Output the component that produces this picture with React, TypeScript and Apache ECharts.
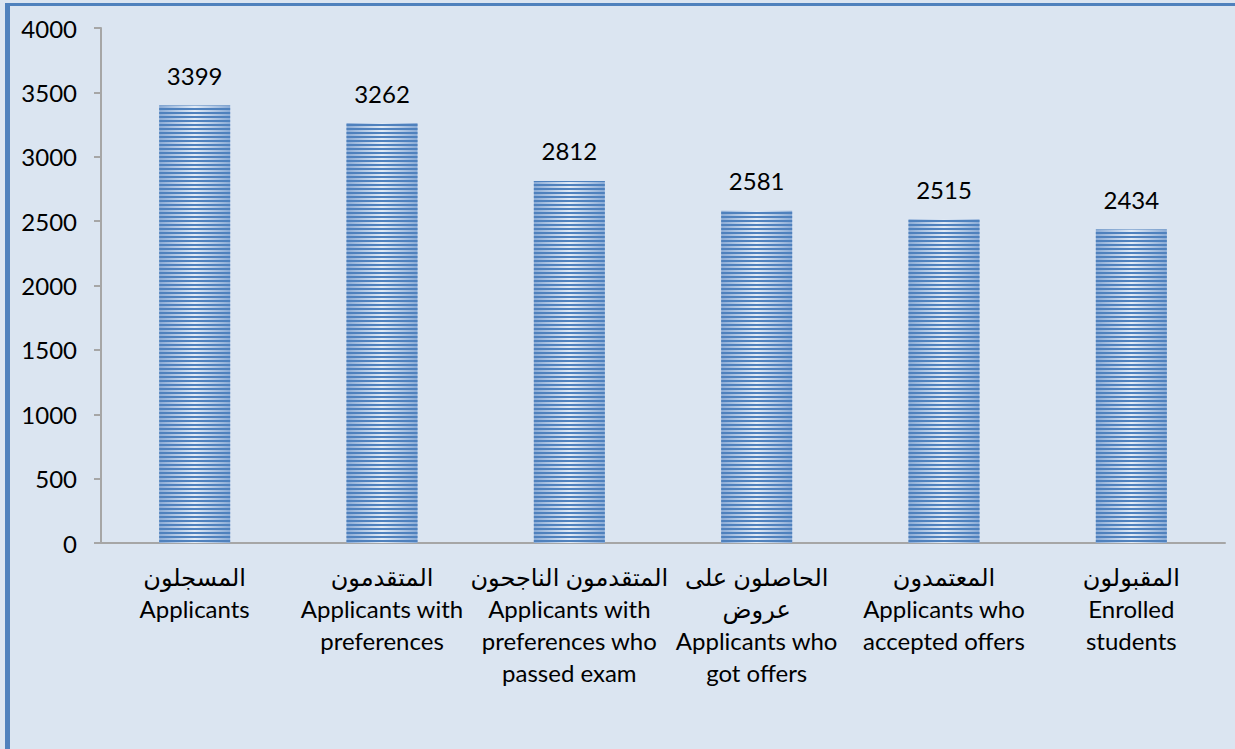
import React, { useEffect, useRef } from "react";
import * as echarts from "echarts";

const categories: string[] = [
  "المسجلون\nApplicants",
  "المتقدمون\nApplicants with\npreferences",
  "المتقدمون الناجحون\nApplicants with\npreferences who\npassed exam",
  "الحاصلون على\nعروض\nApplicants who\ngot offers",
  "المعتمدون\nApplicants who\naccepted offers",
  "المقبولون\nEnrolled\nstudents",
];
const values: number[] = [3399, 3262, 2812, 2581, 2515, 2434];
const yTicks = { min: 0, max: 4000, interval: 500 };

const FONT = "Lato, 'DejaVu Sans', sans-serif";

export default function App() {
  const ref = useRef<HTMLDivElement>(null);
  useEffect(() => {
    if (!ref.current) return;
    const chart = echarts.init(ref.current, undefined, { renderer: "svg" });
    chart.setOption({
      animation: false,
      backgroundColor: "#dbe5f1",
      graphic: [
        { type: "rect", shape: { x: 5, y: 3, width: 1230, height: 3 }, style: { fill: "#4f81bd" }, silent: true },
        { type: "rect", shape: { x: 5, y: 3, width: 5, height: 746 }, style: { fill: "#4f81bd" }, silent: true },
      ],
      grid: { left: 101, right: 10, top: 28, bottom: 206, containLabel: false },
      xAxis: {
        type: "category",
        data: categories,
        axisLine: { show: true, lineStyle: { color: "#a6a6a6", width: 2 } },
        axisTick: { show: false },
        axisLabel: {
          interval: 0,
          color: "#000",
          fontFamily: FONT,
          fontSize: 24,
          lineHeight: 32,
          margin: 17,
          align: "center",
        },
      },
      yAxis: {
        type: "value",
        min: yTicks.min,
        max: yTicks.max,
        interval: yTicks.interval,
        axisLine: { show: true, lineStyle: { color: "#a6a6a6", width: 2 } },
        axisTick: { show: true, length: 7, lineStyle: { color: "#a6a6a6", width: 2 } },
        splitLine: { show: false },
        axisLabel: {
          color: "#000",
          fontFamily: FONT,
          fontSize: 24,
          margin: 24,
          formatter: (v: number) => String(v),
        },
      },
      series: [
        {
          type: "bar",
          data: values,
          barWidth: 71,
          itemStyle: {
            color: {
              type: "linear",
              x: 0,
              y: 0,
              x2: 1,
              y2: 0,
              colorStops: [
                { offset: 0, color: "#8aabd6" },
                { offset: 0.5, color: "#e2ebf6" },
                { offset: 1, color: "#8aabd6" },
              ],
            },
            decal: {
              symbol: "rect",
              symbolSize: 1,
              color: "#4f81bd",
              dashArrayX: [1, 0],
              dashArrayY: [1.8, 1.6],
              rotation: 0,
            },
          },
          label: {
            show: true,
            position: "top",
            distance: 18,
            color: "#000",
            fontFamily: FONT,
            fontSize: 24,
          },
        },
      ],
    });
    return () => chart.dispose();
  }, []);
  return (
    <div
      ref={ref}
      style={{ position: "fixed", left: 0, top: 0, width: 1235, height: 749 }}
    />
  );
}
